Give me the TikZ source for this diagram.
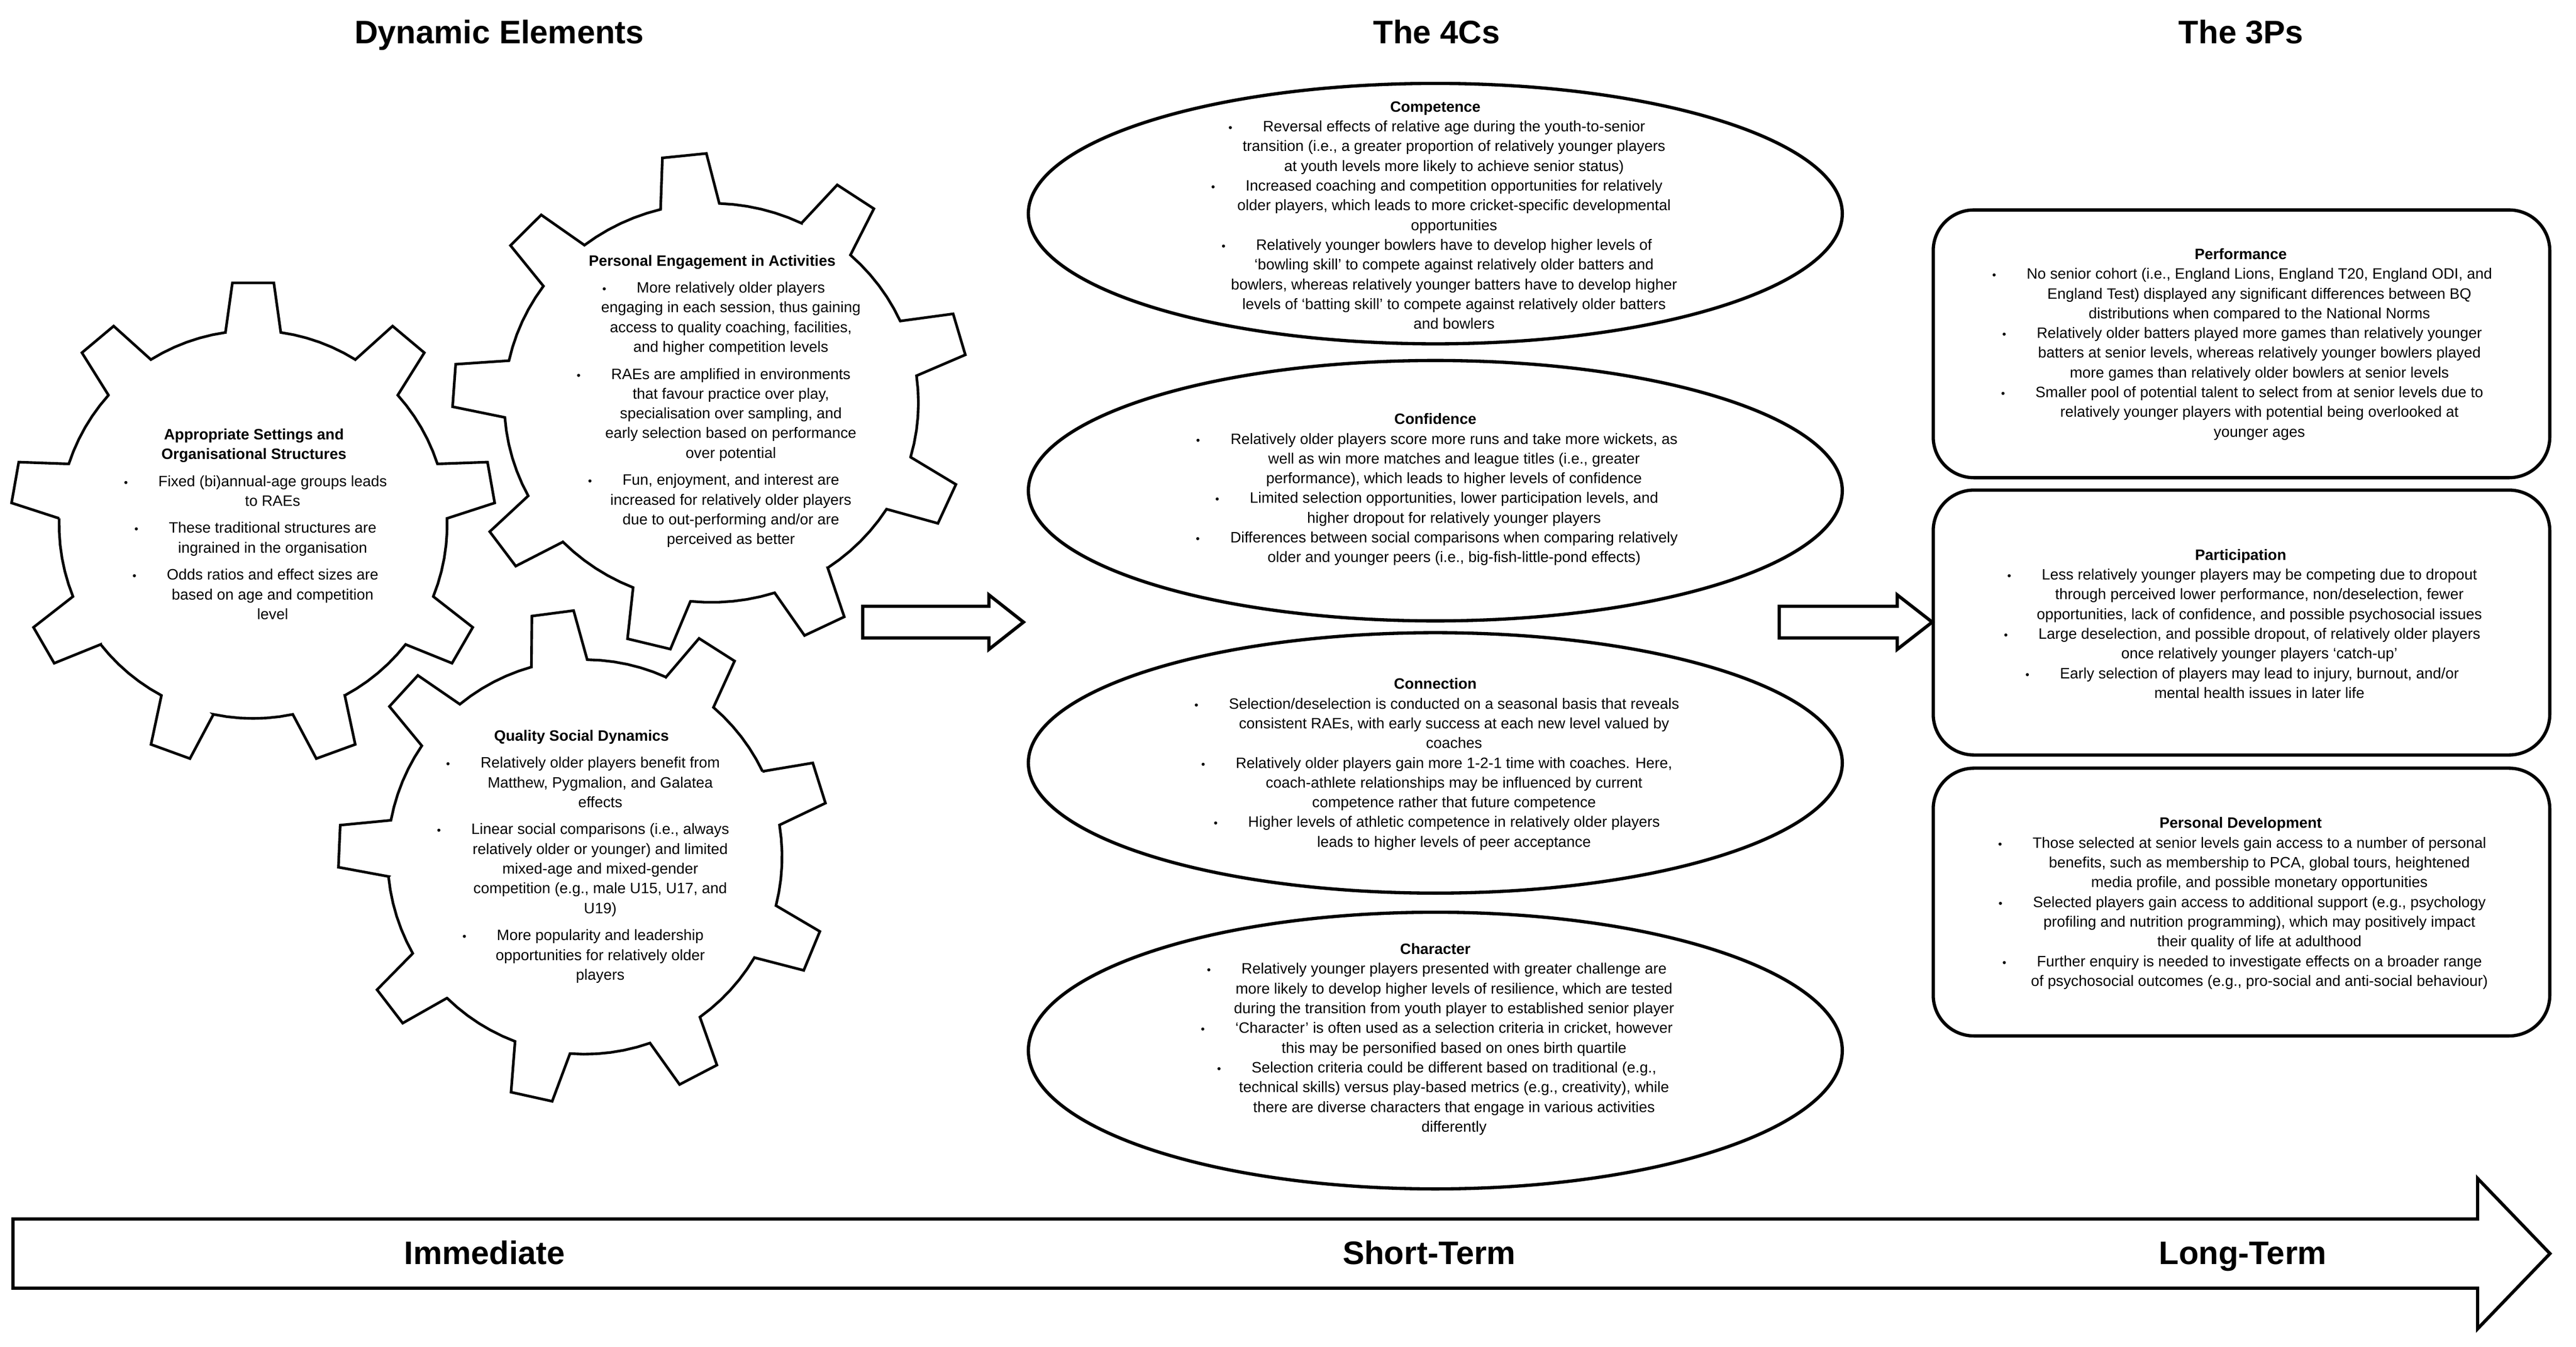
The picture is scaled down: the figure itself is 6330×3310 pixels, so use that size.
\documentclass[tikz,border=0pt]{standalone}
\usepackage{fontspec}
\setmainfont{Liberation Sans}
\usetikzlibrary{shapes.geometric}
\newcommand\bul{\llap{\scalebox{0.75}{\textbullet}\hspace{15pt}}}
\newcommand\hd[1]{\textbf{#1}\kern18.4pt}
% cx, cy, rx, ry, rotation
\newcommand\drawgear[5]{%
 \draw[gearline] ({#1+0.8*#3*cos(#5-8.2)},{#2+0.8*#4*sin(#5-8.2)})
   \foreach \k [evaluate=\k as \ang using {#5+\k*40}] in {0,...,8} {
     -- ({#1+0.8*#3*cos(\ang-8.2)},{#2+0.8*#4*sin(\ang-8.2)})
     -- ({#1+#3*cos(\ang-4.9)},{#2+#4*sin(\ang-4.9)})
     -- ({#1+#3*cos(\ang+4.9)},{#2+#4*sin(\ang+4.9)})
     -- ({#1+0.8*#3*cos(\ang+8.2)},{#2+0.8*#4*sin(\ang+8.2)})
     \foreach \j in {1,...,6} { -- ({#1+0.8*#3*cos(\ang+8.2+\j*3.9333)},{#2+0.8*#4*sin(\ang+8.2+\j*3.9333)}) }
   } -- cycle;
}
\begin{document}
\begin{tikzpicture}[x=0.2pt,y=-0.2pt,
  txt/.style={font=\fontsize{7.4}{9.7}\selectfont, align=center, inner sep=0pt},
  ttl/.style={font=\fontsize{16}{19}\selectfont\bfseries, inner sep=0pt, anchor=base},
  gearline/.style={draw=black, line width=1.3pt, fill=white, line join=miter},
  oval/.style={draw, ellipse, line width=1.6pt, minimum width=400pt, minimum height=128pt, inner sep=0pt},
  pbox/.style={draw, rounded corners=20pt, line width=1.6pt, minimum width=303pt, minimum height=131.6pt, inner sep=0pt},
  blk/.style={draw, line width=1.6pt, fill=white, line join=miter}]
\useasboundingbox (0,0) rectangle (6330,3310);

% titles
\node[ttl] (t1) at (1227,107) {Dynamic Elements};
\node[ttl] (t2) at (3530,107) {The 4Cs};
\node[ttl] (t3) at (5507,107) {The 3Ps};

% gears
\drawgear{622}{1289}{596}{596}{270}
\drawgear{1748}{990}{636}{613}{24}
\drawgear{1437}{2106}{606}{606}{22.5}

\node[txt] (tA) at (670,1288) {\hd{Appropriate Settings and}\\ \hd{Organisational Structures}\\[3.6pt]
\bul Fixed (bi)annual-age groups leads\\ to RAEs\\[3.6pt]
\bul These traditional structures are\\ ingrained in the organisation\\[3.6pt]
\bul Odds ratios and effect sizes are\\ based on age and competition\\ level};

\node[txt] (tB) at (1796,986) {\hd{Personal Engagement in Activities}\\[3.6pt]
\bul More relatively older players\\ engaging in each session, thus gaining\\ access to quality coaching, facilities,\\ and higher competition levels\\[3.6pt]
\bul RAEs are amplified in environments\\ that favour practice over play,\\ specialisation over sampling, and\\ early selection based on performance\\ over potential\\[3.6pt]
\bul Fun, enjoyment, and interest are\\ increased for relatively older players\\ due to out-performing and/or are\\ perceived as better};

\node[txt] (tC) at (1475,2105) {\hd{Quality Social Dynamics}\\[3.6pt]
\bul Relatively older players benefit from\\ Matthew, Pygmalion, and Galatea\\ effects\\[3.6pt]
\bul Linear social comparisons (i.e., always\\ relatively older or younger) and limited\\ mixed-age and mixed-gender\\ competition (e.g., male U15, U17, and\\ U19)\\[3.6pt]
\bul More popularity and leadership\\ opportunities for relatively older\\ players};

% block arrows
\draw[blk] (2120,1490) -- (2430,1490) -- (2430,1462) -- (2515,1529) -- (2430,1596) -- (2430,1568) -- (2120,1568) -- cycle;
\draw[blk] (4372,1490) -- (4662,1490) -- (4662,1462) -- (4748,1529) -- (4662,1596) -- (4662,1568) -- (4372,1568) -- cycle;

% 4Cs
\node[oval] (comp) at (3527,525) {};
\node[oval] (conf) at (3527,1206) {};
\node[oval] (conn) at (3527,1875) {};
\node[oval, minimum height=136pt] (char) at (3527,2582) {};

\node[txt] (tcomp) at (3573,529) {\hd{Competence}\\
\bul Reversal effects of relative age during the youth-to-senior\\ transition (i.e., a greater proportion of relatively younger players\\ at youth levels more likely to achieve senior status)\\
\bul Increased coaching and competition opportunities for relatively\\ older players, which leads to more cricket-specific developmental\\ opportunities\\
\bul Relatively younger bowlers have to develop higher levels of\\ ‘bowling skill’ to compete against relatively older batters and\\ bowlers, whereas relatively younger batters have to develop higher\\ levels of ‘batting skill’ to compete against relatively older batters\\ and bowlers};

\node[txt] (tconf) at (3573,1203) {\hd{Confidence}\\
\bul Relatively older players score more runs and take more wickets, as\\ well as win more matches and league titles (i.e., greater\\ performance), which leads to higher levels of confidence\\
\bul Limited selection opportunities, lower participation levels, and\\ higher dropout for relatively younger players\\
\bul Differences between social comparisons when comparing relatively\\ older and younger peers (i.e., big-fish-little-pond effects)};

\node[txt] (tconn) at (3573,1878) {\hd{Connection}\\
\bul Selection/deselection is conducted on a seasonal basis that reveals\\ consistent RAEs, with early success at each new level valued by\\ coaches\\
\bul Relatively older players gain more 1-2-1 time with coaches. Here,\\ coach-athlete relationships may be influenced by current\\ competence rather that future competence\\
\bul Higher levels of athletic competence in relatively older players\\ leads to higher levels of peer acceptance};

\node[txt] (tchar) at (3573,2554) {\hd{Character}\\
\bul Relatively younger players presented with greater challenge are\\ more likely to develop higher levels of resilience, which are tested\\ during the transition from youth player to established senior player\\
\bul ‘Character’ is often used as a selection criteria in cricket, however\\ this may be personified based on ones birth quartile\\
\bul Selection criteria could be different based on traditional (e.g.,\\ technical skills) versus play-based metrics (e.g., creativity), while\\ there are diverse characters that engage in various activities\\ differently};

% 3Ps
\node[pbox] (perf) at (5508,845) {};
\node[pbox, minimum height=130.2pt] (part) at (5508,1530) {};
\node[pbox] (pdev) at (5508,2217) {};

\node[txt] (tperf) at (5552,846) {\hd{Performance}\\
\bul No senior cohort (i.e., England Lions, England T20, England ODI, and\\ England Test) displayed any significant differences between BQ\\ distributions when compared to the National Norms\\
\bul Relatively older batters played more games than relatively younger\\ batters at senior levels, whereas relatively younger bowlers played\\ more games than relatively older bowlers at senior levels\\
\bul Smaller pool of potential talent to select from at senior levels due to\\ relatively younger players with potential being overlooked at\\ younger ages};

\node[txt] (tpart) at (5552,1533) {\hd{Participation}\\
\bul Less relatively younger players may be competing due to dropout\\ through perceived lower performance, non/deselection, fewer\\ opportunities, lack of confidence, and possible psychosocial issues\\
\bul Large deselection, and possible dropout, of relatively older players\\ once relatively younger players ‘catch-up’\\
\bul Early selection of players may lead to injury, burnout, and/or\\ mental health issues in later life};

\node[txt] (tpdev) at (5552,2220) {\hd{Personal Development}\\
\bul Those selected at senior levels gain access to a number of personal\\ benefits, such as membership to PCA, global tours, heightened\\ media profile, and possible monetary opportunities\\
\bul Selected players gain access to additional support (e.g., psychology\\ profiling and nutrition programming), which may positively impact\\ their quality of life at adulthood\\
\bul Further enquiry is needed to investigate effects on a broader range\\ of psychosocial outcomes (e.g., pro-social and anti-social behaviour)};

% timeline arrow
\draw[blk] (32,2996) -- (6088,2996) -- (6088,2896) -- (6266,3081) -- (6088,3266) -- (6088,3166) -- (32,3166) -- cycle;
\node[ttl] (imm) at (1191,3107) {Immediate};
\node[ttl] (st) at (3512,3107) {Short-Term};
\node[ttl] (lt) at (5511,3107) {Long-Term};
\end{tikzpicture}
\end{document}
